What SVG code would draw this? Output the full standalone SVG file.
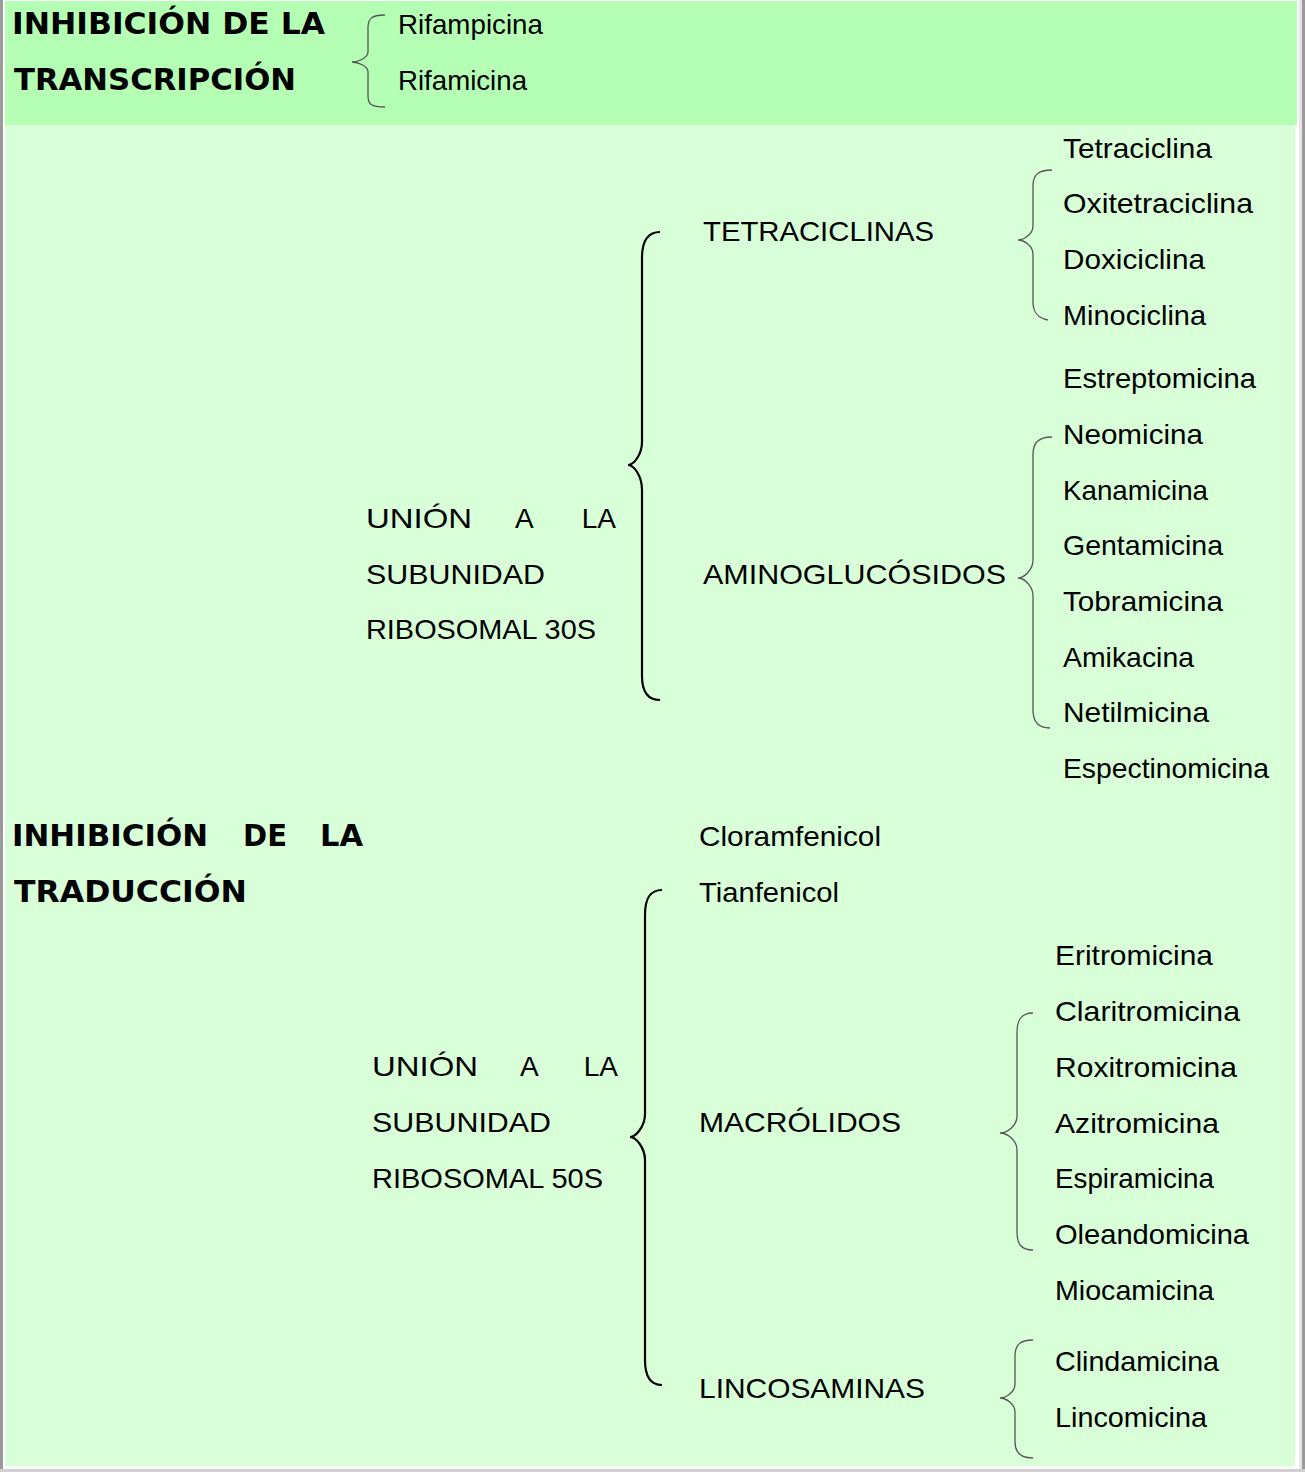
<svg xmlns="http://www.w3.org/2000/svg" width="1305" height="1472" viewBox="0 0 1305 1472">
<style>
.t{font-family:"Liberation Sans",Arial,sans-serif;font-size:28px;fill:#000}
.h{font-family:"DejaVu Sans","Liberation Sans",sans-serif;font-size:30px;font-weight:bold;fill:#000}
.thin{fill:none;stroke:#555;stroke-width:1.3}
.thick{fill:none;stroke:#000;stroke-width:2.2}
</style>
<rect x="0" y="0" width="1305" height="1472" fill="#ffffff"/>
<rect x="0" y="0" width="3" height="1472" fill="#9a9a9a"/>
<rect x="1302" y="0" width="3" height="1472" fill="#9a9a9a"/>
<rect x="1299" y="0" width="3" height="1472" fill="#e6e6e6"/>
<rect x="0" y="1469" width="1305" height="3" fill="#d0d0d0"/>
<rect id="band-top" x="5" y="1" width="1292" height="124" fill="#b5ffb5"/>
<rect id="band-bottom" x="5" y="125" width="1290" height="1341" fill="#d8ffd8"/>

<g id="connectors">
<path id="brace-transcripcion" class="thin" d="M385,15 C371,15 368,19 368,28 L368,52 C368,58 358,62 352,62 C358,62 368,66 368,72 L368,96 C368,104 371,107 385,107"/>
<path id="brace-30s" class="thick" d="M660,232 C648,232 642,240 642,258 L642,442 C642,454 634,465 628,465 C634,465 642,476 642,490 L642,676 C642,692 648,700 660,700"/>
<path id="brace-tetraciclinas" class="thin" d="M1052,170 C1038,170 1033,175 1033,186 L1033,226 C1033,234 1024,240 1018,240 C1024,240 1033,246 1033,254 L1033,302 C1033,313 1038,318 1048,320"/>
<path id="brace-aminoglucosidos" class="thin" d="M1052,437 C1038,437 1033,443 1033,455 L1033,560 C1033,570 1024,578 1018,578 C1024,578 1033,586 1033,596 L1033,710 C1033,722 1038,728 1050,728"/>
<path id="brace-50s" class="thick" d="M662,890 C650,890 645,898 645,915 L645,1114 C645,1126 636,1137 630,1137 C636,1137 645,1148 645,1160 L645,1360 C645,1376 650,1385 662,1385"/>
<path id="brace-macrolidos" class="thin" d="M1033,1013 C1021,1013 1017,1020 1017,1032 L1017,1116 C1017,1126 1007,1133 1000,1133 C1007,1133 1017,1140 1017,1150 L1017,1232 C1017,1244 1021,1250 1033,1250"/>
<path id="brace-lincosaminas" class="thin" d="M1033,1340 C1020,1340 1015,1345 1015,1356 L1015,1384 C1015,1392 1006,1398 1000,1398 C1006,1398 1015,1404 1015,1412 L1015,1442 C1015,1452 1020,1458 1033,1458"/>
</g>

<g id="inhibicion-transcripcion">
<text class="h" x="12" y="34" textLength="313" lengthAdjust="spacingAndGlyphs">INHIBICIÓN DE LA</text>
<text class="h" x="14" y="90" textLength="282" lengthAdjust="spacingAndGlyphs">TRANSCRIPCIÓN</text>
</g>
<g id="rifampicina"><text class="t" x="398" y="34" textLength="145" lengthAdjust="spacingAndGlyphs">Rifampicina</text></g>
<g id="rifamicina"><text class="t" x="398" y="90" textLength="129" lengthAdjust="spacingAndGlyphs">Rifamicina</text></g>

<g id="inhibicion-traduccion">
<text class="h" x="12" y="846" textLength="196" lengthAdjust="spacingAndGlyphs">INHIBICIÓN</text>
<text class="h" x="243" y="846" textLength="44" lengthAdjust="spacingAndGlyphs">DE</text>
<text class="h" x="320" y="846" textLength="43" lengthAdjust="spacingAndGlyphs">LA</text>
<text class="h" x="14" y="902" textLength="233" lengthAdjust="spacingAndGlyphs">TRADUCCIÓN</text>
</g>

<g id="union-30s">
<text class="t" x="366" y="528" textLength="106" lengthAdjust="spacingAndGlyphs">UNIÓN</text>
<text class="t" x="515" y="528">A</text>
<text class="t" x="616" y="528" text-anchor="end">LA</text>
<text class="t" x="366" y="584" textLength="179" lengthAdjust="spacingAndGlyphs">SUBUNIDAD</text>
<text class="t" x="366" y="639" textLength="230" lengthAdjust="spacingAndGlyphs">RIBOSOMAL 30S</text>
</g>
<g id="tetraciclinas"><text class="t" x="703" y="241" textLength="231" lengthAdjust="spacingAndGlyphs">TETRACICLINAS</text></g>
<g id="aminoglucosidos"><text class="t" x="703" y="584" textLength="303" lengthAdjust="spacingAndGlyphs">AMINOGLUCÓSIDOS</text></g>
<g id="tetraciclinas-list">
<text class="t" x="1063" y="158" textLength="149" lengthAdjust="spacingAndGlyphs">Tetraciclina</text>
<text class="t" x="1063" y="213" textLength="190" lengthAdjust="spacingAndGlyphs">Oxitetraciclina</text>
<text class="t" x="1063" y="269" textLength="142" lengthAdjust="spacingAndGlyphs">Doxiciclina</text>
<text class="t" x="1063" y="325" textLength="143" lengthAdjust="spacingAndGlyphs">Minociclina</text>
</g>
<g id="aminoglucosidos-list">
<text class="t" x="1063" y="388" textLength="193" lengthAdjust="spacingAndGlyphs">Estreptomicina</text>
<text class="t" x="1063" y="444" textLength="140" lengthAdjust="spacingAndGlyphs">Neomicina</text>
<text class="t" x="1063" y="500" textLength="145" lengthAdjust="spacingAndGlyphs">Kanamicina</text>
<text class="t" x="1063" y="555" textLength="160" lengthAdjust="spacingAndGlyphs">Gentamicina</text>
<text class="t" x="1063" y="611" textLength="160" lengthAdjust="spacingAndGlyphs">Tobramicina</text>
<text class="t" x="1063" y="667" textLength="131" lengthAdjust="spacingAndGlyphs">Amikacina</text>
<text class="t" x="1063" y="722" textLength="146" lengthAdjust="spacingAndGlyphs">Netilmicina</text>
<text class="t" x="1063" y="778" textLength="206" lengthAdjust="spacingAndGlyphs">Espectinomicina</text>
</g>

<g id="union-50s">
<text class="t" x="372" y="1076" textLength="106" lengthAdjust="spacingAndGlyphs">UNIÓN</text>
<text class="t" x="520" y="1076">A</text>
<text class="t" x="618" y="1076" text-anchor="end">LA</text>
<text class="t" x="372" y="1132" textLength="179" lengthAdjust="spacingAndGlyphs">SUBUNIDAD</text>
<text class="t" x="372" y="1188" textLength="231" lengthAdjust="spacingAndGlyphs">RIBOSOMAL 50S</text>
</g>
<g id="cloramfenicol"><text class="t" x="699" y="846" textLength="182" lengthAdjust="spacingAndGlyphs">Cloramfenicol</text></g>
<g id="tianfenicol"><text class="t" x="699" y="902" textLength="140" lengthAdjust="spacingAndGlyphs">Tianfenicol</text></g>
<g id="macrolidos"><text class="t" x="699" y="1132" textLength="202" lengthAdjust="spacingAndGlyphs">MACRÓLIDOS</text></g>
<g id="lincosaminas"><text class="t" x="699" y="1398" textLength="226" lengthAdjust="spacingAndGlyphs">LINCOSAMINAS</text></g>
<g id="macrolidos-list">
<text class="t" x="1055" y="965" textLength="158" lengthAdjust="spacingAndGlyphs">Eritromicina</text>
<text class="t" x="1055" y="1021" textLength="185" lengthAdjust="spacingAndGlyphs">Claritromicina</text>
<text class="t" x="1055" y="1077" textLength="182" lengthAdjust="spacingAndGlyphs">Roxitromicina</text>
<text class="t" x="1055" y="1133" textLength="164" lengthAdjust="spacingAndGlyphs">Azitromicina</text>
<text class="t" x="1055" y="1188" textLength="159" lengthAdjust="spacingAndGlyphs">Espiramicina</text>
<text class="t" x="1055" y="1244" textLength="194" lengthAdjust="spacingAndGlyphs">Oleandomicina</text>
<text class="t" x="1055" y="1300" textLength="159" lengthAdjust="spacingAndGlyphs">Miocamicina</text>
</g>
<g id="lincosaminas-list">
<text class="t" x="1055" y="1371" textLength="164" lengthAdjust="spacingAndGlyphs">Clindamicina</text>
<text class="t" x="1055" y="1427" textLength="152" lengthAdjust="spacingAndGlyphs">Lincomicina</text>
</g>
</svg>
